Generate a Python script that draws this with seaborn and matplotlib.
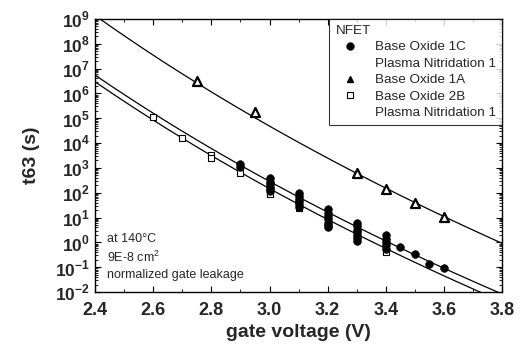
import numpy as np
import pandas as pd
import matplotlib
matplotlib.use("Agg")
import matplotlib.pyplot as plt
import seaborn as sns
from matplotlib.lines import Line2D
from matplotlib.ticker import LogLocator, FixedLocator, NullFormatter, FuncFormatter

sns.set_style("ticks")
plt.rcParams['font.family'] = ['Liberation Sans', 'DejaVu Sans']
plt.rcParams['mathtext.fontset'] = 'custom'
plt.rcParams['mathtext.rm'] = 'Liberation Sans:bold'
plt.rcParams['mathtext.bf'] = 'Liberation Sans:bold'

# Base Oxide 1C / Plasma Nitridation 1 (circles), log10(t63)
circ_v = [2.9, 2.9,
          3.0, 3.0, 3.0, 3.0, 3.0, 3.0,
          3.1, 3.1, 3.1, 3.1, 3.1, 3.1,
          3.2, 3.2, 3.2, 3.2, 3.2, 3.2, 3.2,
          3.3, 3.3, 3.3, 3.3, 3.3, 3.3, 3.3,
          3.4, 3.4, 3.4, 3.4, 3.4,
          3.45, 3.5, 3.55, 3.6]
circ_log = [3.15, 3.05,
            2.59, 2.45, 2.35, 2.25, 2.15, 2.06,
            1.98, 1.85, 1.75, 1.65, 1.55, 1.42,
            1.34, 1.20, 1.05, 0.95, 0.80, 0.70, 0.61,
            0.77, 0.65, 0.50, 0.40, 0.30, 0.18, 0.05,
            0.29, 0.15, 0.00, -0.12, -0.25,
            -0.18, -0.48, -0.88, -1.04]

# Base Oxide 1A (triangles)
tri_v = [2.75, 2.95, 3.3, 3.4, 3.5, 3.6]
tri_log = [6.5, 5.25, 2.78, 2.15, 1.58, 1.02]

# Base Oxide 2B / Plasma Nitridation 1 (squares)
sq_v = [2.6, 2.7, 2.8, 2.8, 2.9, 3.0, 3.0, 3.1, 3.1, 3.2, 3.3, 3.4, 3.4]
sq_log = [5.05, 4.2, 3.52, 3.4, 2.79, 2.0, 1.94, 1.45, 1.38, 0.68, 0.1, -0.3, -0.4]

# power-law fits: log10(t) at V_ref, exponent n
fit_names = ['1C', '1A', '2B']
fit_ref_v = [2.4, 2.417, 2.4]
fit_ref_log = [6.74, 9.0, 6.47]
fit_n = [44.2, 46.0, 44.4]

df = pd.concat([
    pd.DataFrame({'V': circ_v, 't': 10.0 ** np.array(circ_log), 'sample': '1C'}),
    pd.DataFrame({'V': tri_v, 't': 10.0 ** np.array(tri_log), 'sample': '1A'}),
    pd.DataFrame({'V': sq_v, 't': 10.0 ** np.array(sq_log), 'sample': '2B'}),
])

fig = plt.figure(figsize=(5.22, 3.51), dpi=100)
ax = fig.add_axes([0.182, 0.168, 0.780, 0.778])

vv = np.linspace(2.4, 3.85, 300)
for name, v0, l0, n in zip(fit_names, fit_ref_v, fit_ref_log, fit_n):
    fit_df = pd.DataFrame({'V': vv, 't': 10.0 ** (l0 - n * np.log10(vv / v0))})
    sns.lineplot(data=fit_df, x='V', y='t', ax=ax, color='black', lw=0.9)

# squares first so the circle stacks sit on top of them
sns.scatterplot(data=df[df['sample'] == '2B'], x='V', y='t', ax=ax, marker='s',
                s=25, facecolor='white', edgecolor='black', linewidth=0.8, legend=False, zorder=3)
sns.scatterplot(data=df[df['sample'] == '1C'], x='V', y='t', ax=ax, marker='o',
                s=30, color='black', edgecolor='black', linewidth=0.5, legend=False, zorder=4)
sns.scatterplot(data=df[df['sample'] == '1A'], x='V', y='t', ax=ax, marker='^',
                s=42, facecolor='white', edgecolor='black', linewidth=1.6, legend=False, zorder=4)

ax.set_yscale('log')
ax.set_xlim(2.4, 3.8)
ax.set_ylim(1e-2, 1e9)

ax.xaxis.set_major_locator(FixedLocator([2.4, 2.6, 2.8, 3.0, 3.2, 3.4, 3.6, 3.8]))
ax.xaxis.set_minor_locator(FixedLocator([2.5, 2.7, 2.9, 3.1, 3.3, 3.5, 3.7]))
ax.xaxis.set_major_formatter(FuncFormatter(lambda x, p: f'{x:.1f}'))
ax.yaxis.set_major_locator(LogLocator(base=10, numticks=20))
ax.yaxis.set_minor_locator(LogLocator(base=10, subs=np.arange(2, 10), numticks=20))
ax.yaxis.set_minor_formatter(NullFormatter())
ax.yaxis.set_major_formatter(FuncFormatter(lambda y, p: r'$10^{%d}$' % round(np.log10(y))))

ax.tick_params(which='both', direction='in', top=True, right=True, color='black')
ax.tick_params(which='major', length=4, width=0.8)
ax.tick_params(which='minor', length=2, width=0.6)
ax.tick_params(axis='x', which='major', labelsize=13, pad=7)
ax.tick_params(axis='y', which='major', labelsize=12.5, pad=3.5)
for lab in ax.get_xticklabels():
    lab.set_fontweight('bold')
for sp in ax.spines.values():
    sp.set_linewidth(1.0)
    sp.set_color('black')

ax.set_xlabel('gate voltage (V)', fontsize=14, fontweight='bold', labelpad=4)
ax.set_ylabel('t63 (s)', fontsize=14, fontweight='bold', labelpad=11)

handles = [
    Line2D([], [], ls='none', marker='o', color='black', ms=5),
    Line2D([], [], ls='none', marker='none'),
    Line2D([], [], ls='none', marker='^', mfc='black', mec='black', ms=5),
    Line2D([], [], ls='none', marker='s', mfc='white', mec='black', ms=4, mew=0.8),
    Line2D([], [], ls='none', marker='none'),
]
labels = ['Base Oxide 1C', 'Plasma Nitridation 1', 'Base Oxide 1A',
          'Base Oxide 2B', 'Plasma Nitridation 1']
leg = ax.legend(handles, labels, title='NFET', loc='upper right', fontsize=9.7,
                title_fontsize=9.7, frameon=True, fancybox=False, edgecolor='black',
                borderaxespad=0, handletextpad=0.74, handlelength=2.2,
                labelspacing=0.3, borderpad=0.45, alignment='left')
leg.get_frame().set_linewidth(0.8)

ax.text(0.03, 0.215, 'at 140°C\n9E-8 cm$^{\\mathregular{2}}$\nnormalized gate leakage',
        transform=ax.transAxes, fontsize=9, va='top', ha='left', linespacing=1.4)

fig.savefig('out.png', dpi=100)
